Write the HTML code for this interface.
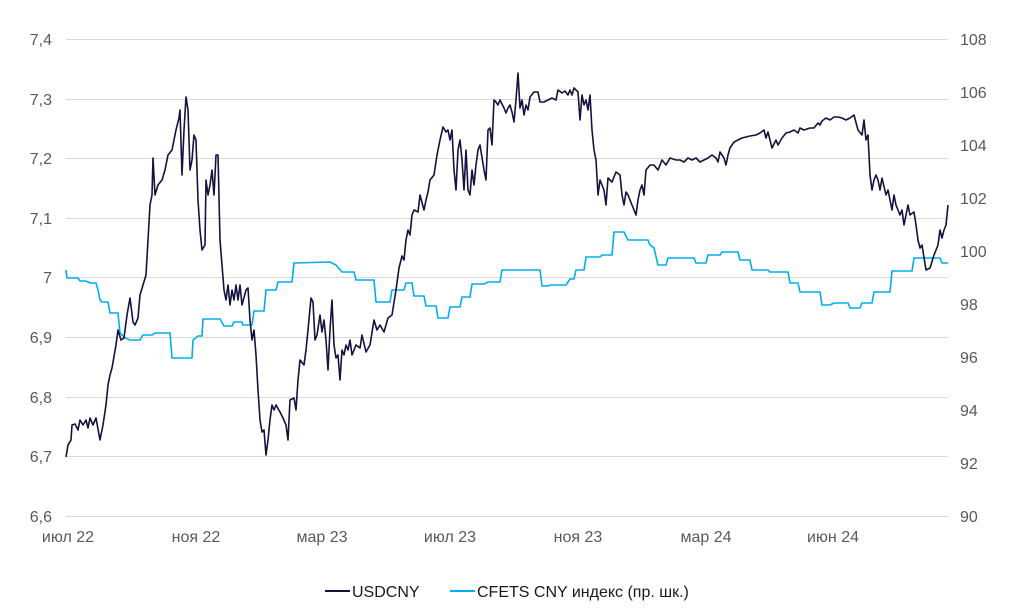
<!DOCTYPE html>
<html><head><meta charset="utf-8"><style>
html,body{margin:0;padding:0;background:#fff;}
svg{display:block;font-family:"Liberation Sans","DejaVu Sans",sans-serif;}
.t{fill:#595959;font-size:16px;}
</style></head><body>
<svg width="1024" height="611" viewBox="0 0 1024 611">
<g stroke="#d9d9d9" stroke-width="1">
<line x1="66" y1="39.5" x2="948" y2="39.5"/>
<line x1="66" y1="99.5" x2="948" y2="99.5"/>
<line x1="66" y1="158.5" x2="948" y2="158.5"/>
<line x1="66" y1="218.5" x2="948" y2="218.5"/>
<line x1="66" y1="277.5" x2="948" y2="277.5"/>
<line x1="66" y1="337.5" x2="948" y2="337.5"/>
<line x1="66" y1="397.5" x2="948" y2="397.5"/>
<line x1="66" y1="456.5" x2="948" y2="456.5"/>
<line x1="66" y1="516.5" x2="948" y2="516.5"/>
</g>
<g class="t" text-anchor="end">
<text x="52" y="45">7,4</text><text x="52" y="105">7,3</text><text x="52" y="164">7,2</text>
<text x="52" y="224">7,1</text><text x="52" y="283">7</text><text x="52" y="343">6,9</text>
<text x="52" y="403">6,8</text><text x="52" y="462">6,7</text><text x="52" y="522">6,6</text>
</g>
<g class="t" text-anchor="start">
<text x="960" y="45">108</text><text x="960" y="98">106</text><text x="960" y="151">104</text>
<text x="960" y="204">102</text><text x="960" y="257">100</text><text x="960" y="310">98</text>
<text x="960" y="363">96</text><text x="960" y="416">94</text><text x="960" y="469">92</text>
<text x="960" y="522">90</text>
</g>
<g class="t" text-anchor="middle">
<text x="68" y="542">июл 22</text><text x="196" y="542">ноя 22</text><text x="322" y="542">мар 23</text>
<text x="450" y="542">июл 23</text><text x="578" y="542">ноя 23</text><text x="706" y="542">мар 24</text>
<text x="833" y="542">июн 24</text>
</g>
<polyline fill="none" stroke="#00aeef" stroke-width="1.6" points="66,270 67,278 78,278 80,281 86,281 90,283 96,283 98,290 100,300 102,302 108,302 110,313 118,313 120,333 125,338 130,340 140,340 143,335 152,335 155,333 170,333 172,358 192,358 193,340 198,336 202,336 203,319 220,319 224,326 232,326 234,322 242,322 243,325 252,325 254,311 264,311 266,290 276,290 278,282 292,282 294,263 330,262 336,265 342,272 354,272 356,280 374,280 376,302 390,302 392,290 404,290 406,283 412,283 414,296 424,296 426,306 436,306 438,318 448,318 450,307 460,307 462,297 470,297 472,284 484,284 488,282 500,282 502,270 540,270 542,286 548,286 550,285 566,285 570,279 574,279 576,270 584,270 586,257 600,257 602,255 612,255 614,232 624,232 628,240 648,240 650,245 654,248 658,265 666,265 668,258 694,258 696,263 706,263 708,255 720,255 722,252 738,252 740,260 750,260 752,270 768,270 770,272 788,272 790,283 798,283 800,292 820,292 822,305 830,305 834,303 848,303 850,308 860,308 862,303 872,303 874,292 890,292 892,271 912,271 914,258 940,258 942,263 948,263"/>
<polyline fill="none" stroke="#14123f" stroke-width="1.6" stroke-linejoin="round" points="66,457 68,445 71,440 72,425 75,424 78,430 80,420 83,425 86,420 88,428 90,418 93,425 96,418 100,440 103,425 106,405 108,385 110,375 112,368 116,345 118,330 121,340 124,338 127,315 130,298 133,322 135,325 138,318 140,295 143,285 146,275 148,240 150,205 152,195 153,158 155,195 158,185 162,180 165,170 168,155 172,150 174,140 176,130 179,118 180,110 182,175 184,130 186,97 188,110 190,170 192,160 194,135 196,140 198,200 200,230 202,250 205,245 206,180 208,195 210,185 212,170 214,195 216,155 218,155 220,240 222,265 224,290 226,300 228,285 230,305 232,290 234,300 236,285 238,300 240,285 242,305 246,290 248,288 250,320 252,340 254,330 256,355 258,390 260,420 262,432 264,430 266,455 268,440 270,420 272,405 274,410 276,405 280,412 283,418 286,425 288,440 290,400 294,398 296,410 298,380 300,360 304,365 306,350 308,330 311,298 313,302 315,340 317,335 320,315 322,332 324,320 326,340 328,370 330,330 332,300 334,345 336,358 338,355 340,380 342,350 344,355 346,345 348,350 350,340 352,355 356,345 360,348 362,335 366,352 370,345 374,320 377,330 380,325 384,332 388,318 392,315 396,290 399,268 402,256 404,260 406,240 408,230 410,235 412,215 414,210 418,212 420,195 424,210 426,200 428,192 430,180 434,175 437,155 440,140 443,127 446,132 448,130 450,140 452,130 454,170 456,190 458,150 460,140 462,160 464,190 466,150 468,190 470,195 472,170 474,185 476,165 478,150 480,145 484,170 486,180 488,130 490,128 492,145 494,100 496,102 498,105 500,100 504,108 506,113 508,108 510,105 512,112 514,122 516,100 518,73 520,108 522,100 524,115 526,105 528,110 530,97 534,92 538,92 540,102 544,102 548,100 552,98 556,100 558,90 562,93 565,91 568,95 570,90 572,95 574,88 578,92 580,120 582,95 584,105 586,100 588,110 590,95 592,130 594,150 596,160 598,195 600,180 602,185 604,190 606,205 608,178 612,182 616,172 620,175 622,195 624,205 626,192 628,195 632,205 636,215 638,200 640,190 642,185 644,195 646,170 650,165 654,165 658,170 662,160 666,165 670,158 676,160 680,160 684,162 688,158 692,160 696,158 700,162 704,160 708,158 712,155 716,158 718,162 720,152 724,158 726,165 728,155 730,148 734,142 738,140 742,138 746,137 750,136 756,135 760,133 764,130 766,138 768,132 772,148 776,140 778,145 782,138 786,133 790,132 794,130 798,133 800,128 804,130 810,128 814,128 818,123 820,125 822,121 826,118 830,120 834,117 838,117 842,118 846,120 850,118 854,115 858,130 862,135 864,120 866,140 868,135 870,175 872,190 874,180 876,175 878,180 880,190 882,178 886,195 888,190 890,200 892,210 894,195 896,205 900,215 902,210 904,225 906,215 908,205 910,215 914,212 916,225 918,240 920,248 922,245 926,270 930,268 934,255 938,245 940,230 942,238 944,230 946,225 948,205"/>
<line x1="325" y1="591" x2="350" y2="591" stroke="#14123f" stroke-width="2"/>
<text x="352" y="597" font-size="16" fill="#1a1a1a">USDCNY</text>
<line x1="450" y1="591" x2="475" y2="591" stroke="#00aeef" stroke-width="2"/>
<text x="477" y="597" font-size="16" fill="#1a1a1a">CFETS CNY индекс (пр. шк.)</text>
</svg>
</body></html>
